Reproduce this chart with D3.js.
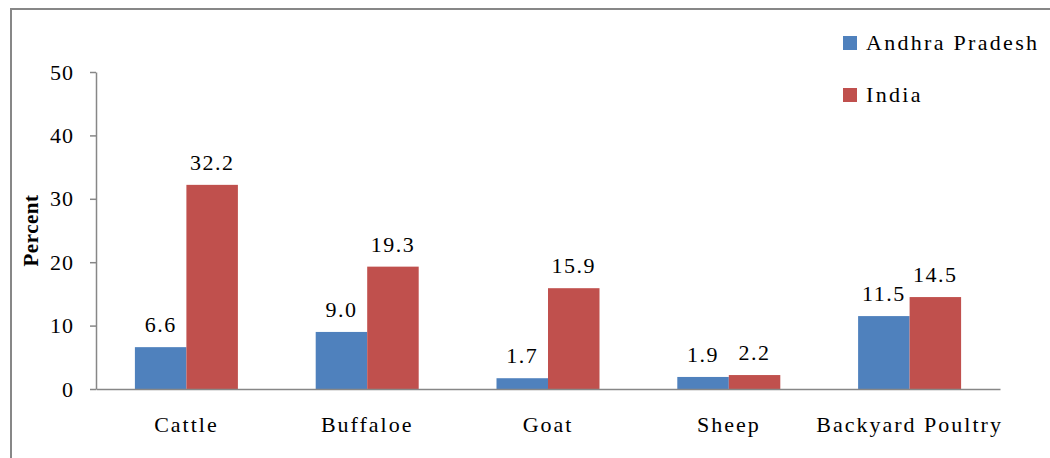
<!DOCTYPE html>
<html>
<head>
<meta charset="utf-8">
<script src="https://cdn.jsdelivr.net/npm/d3@7"></script>
<style>
  html, body { margin: 0; padding: 0; background: #fff; }
</style>
</head>
<body>
<svg id="chart" width="1050" height="458"></svg>
<script>
// Livestock share, percent
const categories = ["Cattle", "Buffaloe", "Goat", "Sheep", "Backyard Poultry"];
const seriesNames = ["Andhra Pradesh", "India"];
const andhraPradesh = [6.6, 9.0, 1.7, 1.9, 11.5];
const india = [32.2, 19.3, 15.9, 2.2, 14.5];
const yTicks = [0, 10, 20, 30, 40, 50];
const colors = ["#4F81BD", "#C0504D"];

const FONT = "'Liberation Serif', 'DejaVu Serif', serif";

const seriesValues = [andhraPradesh, india];
const rows = categories.map((c, i) => ({
  category: c,
  values: seriesNames.map((s, j) => ({ series: s, value: seriesValues[j][i], color: colors[j] }))
}));

const svg = d3.select("#chart").attr("font-family", FONT);
const axisColor = "#878787";

// outer frame (top and left edges visible)
svg.append("path")
  .attr("d", "M11,458 L11,9 L1050,9")
  .attr("fill", "none")
  .attr("stroke", axisColor)
  .attr("stroke-width", 2);

const plot = { left: 96, right: 1000, top: 72, bottom: 389 };

const y = d3.scaleLinear().domain([0, 50]).range([plot.bottom, plot.top]);
const x0 = d3.scaleBand().domain(categories).range([plot.left, plot.right]).padding(0);
const groupWidth = 103;
const x1 = d3.scaleBand().domain(seriesNames).range([0, groupWidth]).padding(0);
const groupOffset = (x0.bandwidth() - groupWidth) / 2;

// bars
const groups = svg.append("g").selectAll("g")
  .data(rows).join("g")
  .attr("transform", d => `translate(${x0(d.category) + groupOffset},0)`);

groups.selectAll("rect")
  .data(d => d.values).join("rect")
  .attr("x", d => x1(d.series))
  .attr("y", d => y(d.value))
  .attr("width", x1.bandwidth())
  .attr("height", d => y(0) - y(d.value))
  .attr("fill", d => d.color);

// value labels
groups.selectAll("text.val")
  .data(d => d.values).join("text")
  .attr("class", "val")
  .attr("x", d => x1(d.series) + x1.bandwidth() / 2)
  .attr("y", d => y(d.value) - 15)
  .attr("text-anchor", "middle")
  .attr("font-family", FONT)
  .attr("font-size", 22)
  .attr("letter-spacing", "1.5px")
  .text(d => d.value.toFixed(1));

// y axis
const yAxis = svg.append("g")
  .attr("transform", `translate(${plot.left},0)`)
  .call(d3.axisLeft(y).tickValues(yTicks).tickFormat(d3.format("d")).tickSize(6).tickSizeOuter(0).tickPadding(16))
  .attr("font-family", FONT)
  .attr("font-size", 22);
yAxis.select(".domain").attr("stroke", axisColor).attr("stroke-width", 1.5);
yAxis.selectAll(".tick line").attr("stroke", axisColor).attr("stroke-width", 1.5);
yAxis.selectAll(".tick text")
  .attr("fill", "#000")
  .attr("letter-spacing", "1px");

// x axis
const xAxis = svg.append("g")
  .attr("transform", `translate(0,${plot.bottom})`)
  .call(d3.axisBottom(x0).tickSize(0).tickSizeOuter(0).tickPadding(27))
  .attr("font-family", FONT)
  .attr("font-size", 22);
xAxis.select(".domain").attr("stroke", axisColor).attr("stroke-width", 1.5);
xAxis.selectAll(".tick text")
  .attr("fill", "#000")
  .attr("letter-spacing", "2px");

// y axis title
svg.append("text")
  .attr("transform", `translate(38,${(plot.top + plot.bottom) / 2}) rotate(-90)`)
  .attr("text-anchor", "middle")
  .attr("font-family", FONT)
  .attr("font-size", 21)
  .attr("font-weight", "bold")
  .attr("letter-spacing", "0.5px")
  .text("Percent");

// legend
const legend = svg.append("g").selectAll("g")
  .data(seriesNames).join("g")
  .attr("transform", (d, i) => `translate(843,${36 + i * 52})`);
legend.append("rect")
  .attr("width", 14).attr("height", 14)
  .attr("fill", (d, i) => colors[i]);
legend.append("text")
  .attr("x", 23).attr("y", 14)
  .attr("font-family", FONT)
  .attr("font-size", 22)
  .attr("letter-spacing", "2.3px")
  .text(d => d);
</script>
</body>
</html>
